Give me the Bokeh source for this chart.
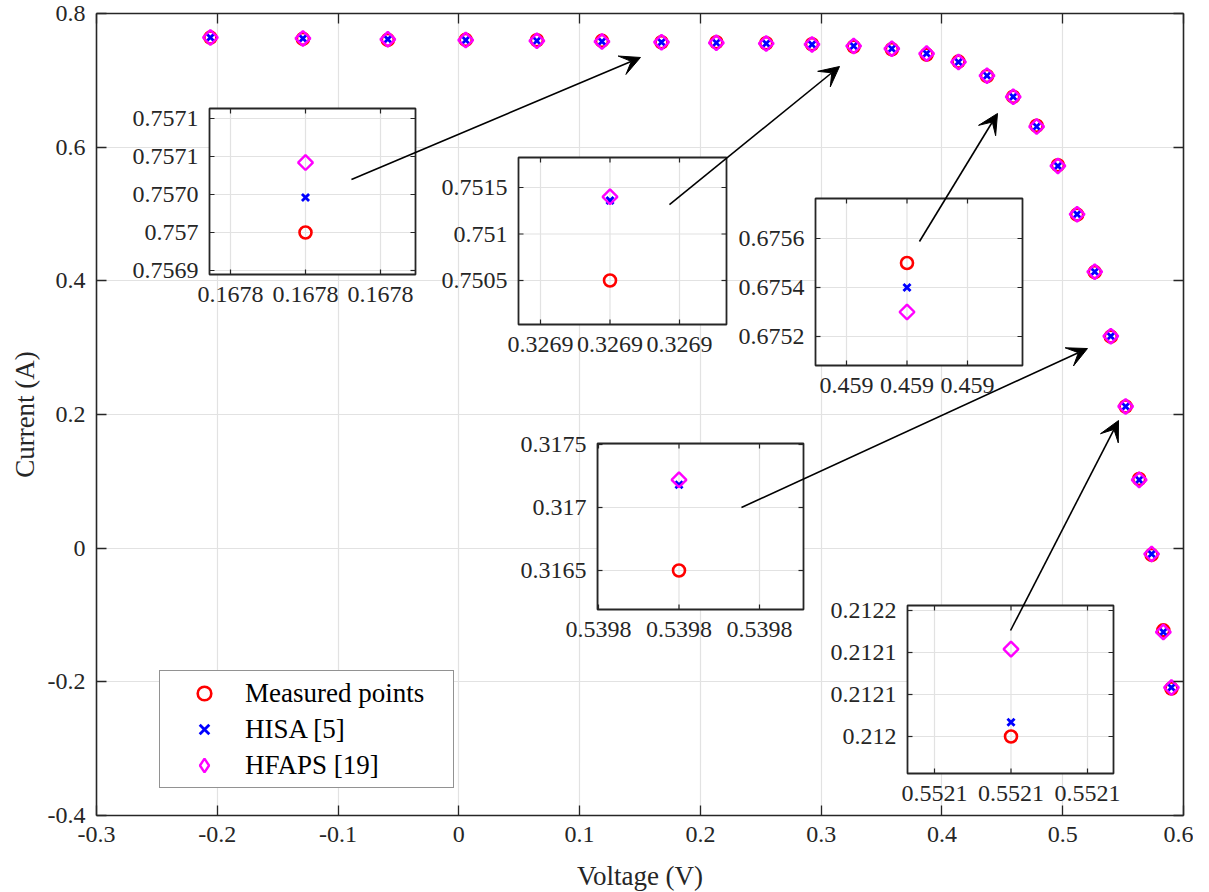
import math
from bokeh.plotting import figure
from bokeh.models import (Range1d, FixedTicker, LinearAxis, Legend, LegendItem,
                          Arrow, VeeHead, CustomJSTickFormatter)
from bokeh.core.properties import value
from bokeh.embed import file_html
from bokeh.resources import INLINE

# ---------------- data ----------------
voltage = [-0.2057, -0.1291, -0.0588, 0.0057, 0.0646, 0.1185, 0.1678, 0.2132,
           0.2545, 0.2924, 0.3269, 0.3585, 0.3873, 0.4137, 0.4373, 0.4590,
           0.4784, 0.4960, 0.5119, 0.5265, 0.5398, 0.5521, 0.5633, 0.5736,
           0.5833, 0.5900]
measured = [0.7640, 0.7620, 0.7605, 0.7605, 0.7600, 0.7590, 0.7570, 0.7570,
            0.7555, 0.7540, 0.7505, 0.7465, 0.7385, 0.7280, 0.7065, 0.6755,
            0.6320, 0.5730, 0.4990, 0.4130, 0.3165, 0.2120, 0.1035, -0.0100,
            -0.1230, -0.2100]
hisa = [0.7641, 0.7627, 0.7614, 0.7602, 0.7591, 0.7580, 0.757046, 0.7561,
        0.7551, 0.7537, 0.75136, 0.7474, 0.7401, 0.7274, 0.7070, 0.6754,
        0.6308, 0.5719, 0.4996, 0.4136, 0.31718, 0.212017, 0.1022, -0.0087,
        -0.1255, -0.2085]
hfaps = [0.7641, 0.7627, 0.7614, 0.7602, 0.7591, 0.7580, 0.757092, 0.7561,
         0.7551, 0.7537, 0.75140, 0.7474, 0.7401, 0.7274, 0.7070, 0.6753,
         0.6308, 0.5719, 0.4996, 0.4136, 0.31722, 0.212104, 0.1022, -0.0087,
         -0.1255, -0.2085]

series_names = ["Measured points", "HISA [5]", "HFAPS [19]"]

x_ticks = [-0.3, -0.2, -0.1, 0.0, 0.1, 0.2, 0.3, 0.4, 0.5, 0.6]
x_tick_labels = ["-0.3", "-0.2", "-0.1", "0", "0.1", "0.2", "0.3", "0.4", "0.5", "0.6"]
y_ticks = [-0.4, -0.2, 0.0, 0.2, 0.4, 0.6, 0.8]
y_tick_labels = ["-0.4", "-0.2", "0", "0.2", "0.4", "0.6", "0.8"]

# zoomed insets: which point each one shows, and its tick labels
inset_points = [6, 10, 15, 20, 21]
inset_x_step = 2e-5
inset_x_tick_labels = [["0.1678", "0.1678", "0.1678"],
                       ["0.3269", "0.3269", "0.3269"],
                       ["0.459", "0.459", "0.459"],
                       ["0.5398", "0.5398", "0.5398"],
                       ["0.5521", "0.5521", "0.5521"]]
inset_y_ticks = [[0.75695, 0.7570, 0.75705, 0.7571, 0.75715],
                 [0.7505, 0.7510, 0.7515],
                 [0.6752, 0.6754, 0.6756],
                 [0.3165, 0.3170, 0.3175],
                 [0.2120, 0.21205, 0.2121, 0.21215]]
inset_y_tick_labels = [["0.7569", "0.757", "0.7570", "0.7571", "0.7571"],
                       ["0.7505", "0.751", "0.7515"],
                       ["0.6752", "0.6754", "0.6756"],
                       ["0.3165", "0.317", "0.3175"],
                       ["0.212", "0.2121", "0.2121", "0.2122"]]

# annotation arrows (main-axes data units)
arrow_start_x = [-0.0889, 0.1744, 0.3814, 0.2340, 0.4568]
arrow_start_y = [0.5516, 0.5142, 0.4588, 0.0608, -0.1232]
arrow_end_x = [0.1504, 0.3152, 0.4460, 0.5205, 0.5462]
arrow_end_y = [0.7342, 0.7207, 0.6504, 0.2987, 0.1910]

# ---------------- layout (page pixels) ----------------
PAGE = 0
FL, FT, FW, FH = 96, 13, 1087, 802
TOTAL_H = 890
INSET_BOX = [(209, 108, 415, 274), (518, 157, 726, 324), (815, 198, 1022, 365),
             (597, 443, 803, 609), (907, 605, 1113, 773)]
INSET_XCAL = [(230, 380), (540, 679), (846, 967), (598, 759), (934, 1087)]
INSET_YCAL = [(270, 118), (280, 187), (336, 238), (570, 444), (736, 610)]

FONT = "Liberation Serif"
TXT = "#262626"
AX = "#262626"
GRID = "#e2e2e2"
TICK_FS = "24px"
RED, BLUE, MAG = "#ff0000", "#0000ff", "#ff00ff"

p = figure(frame_width=FW, frame_height=FH,
           x_range=Range1d(-0.3, 0.6), y_range=Range1d(-0.4, 0.8),
           output_backend="svg", toolbar_location=None,
           min_border_left=FL - PAGE, min_border_top=FT - PAGE,
           min_border_right=10, min_border_bottom=TOTAL_H - (FT + FH),
           background_fill_color="white", border_fill_color="white",
           outline_line_color=None)

p.xaxis.ticker = FixedTicker(ticks=x_ticks)
p.yaxis.ticker = FixedTicker(ticks=y_ticks)
p.xaxis.major_label_overrides = dict(zip(x_ticks, x_tick_labels))
p.yaxis.major_label_overrides = dict(zip(y_ticks, y_tick_labels))
for ax in (p.xaxis[0], p.yaxis[0]):
    ax.major_tick_in = 10
    ax.major_tick_out = 0
    ax.minor_tick_line_color = None
    ax.axis_line_color = AX
    ax.axis_line_width = 1.6
    ax.major_tick_line_color = AX
    ax.major_tick_line_width = 1.3
    ax.major_label_text_font = FONT
    ax.major_label_text_font_size = TICK_FS
    ax.major_label_text_color = TXT
    ax.major_label_standoff = 11
    ax.axis_label_text_font = FONT
    ax.axis_label_text_font_size = "27px"
    ax.axis_label_text_font_style = "normal"
    ax.axis_label_text_color = TXT
p.xaxis.axis_label = "Voltage (V)"
p.yaxis.axis_label = "Current (A)"
p.xaxis.axis_label_standoff = 16
p.yaxis.axis_label_standoff = 5

for loc, tk in (("above", x_ticks), ("right", y_ticks)):
    ax = LinearAxis(ticker=FixedTicker(ticks=tk),
                    formatter=CustomJSTickFormatter(code="return ''"),
                    major_label_text_font_size="0px", major_label_standoff=0,
                    major_tick_in=10, major_tick_out=0,
                    minor_tick_line_color=None,
                    axis_line_color=AX, axis_line_width=1.6,
                    major_tick_line_color=AX, major_tick_line_width=1.3)
    p.add_layout(ax, loc)

p.xgrid.grid_line_color = GRID
p.ygrid.grid_line_color = GRID
p.xgrid.grid_line_width = 1.2
p.ygrid.grid_line_width = 1.2


def draw_points(xs, m, h, f, **rng):
    r1 = p.scatter(xs, m, marker="circle", size=12, fill_color=None,
                   line_color=RED, line_width=2.6, **rng)
    r2 = p.scatter(xs, h, marker="x", size=10, line_color=BLUE,
                   line_width=2.8, **rng)
    r3 = p.scatter(xs, f, marker="square", angle=math.pi / 4, size=10.5,
                   fill_color=None, line_color=MAG, line_width=2.4, **rng)
    return r1, r2, r3


r_meas, r_hisa, r_hfaps = draw_points(voltage, measured, hisa, hfaps)

# ---------------- insets ----------------
xr_map, yr_map = {}, {}
specs = []
for k, idx in enumerate(inset_points):
    v = voltage[idx]
    xticks_k = [v - inset_x_step, v, v + inset_x_step]
    pa, pb = INSET_XCAL[k]
    sx = (xticks_k[-1] - xticks_k[0]) / (pb - pa)
    fx = lambda px, a=xticks_k[0], pa=pa, sx=sx: a + (px - pa) * sx
    qa, qb = INSET_YCAL[k]
    yk = inset_y_ticks[k]
    sy = (yk[-1] - yk[0]) / (qb - qa)
    fy = lambda py, a=yk[0], qa=qa, sy=sy: a + (py - qa) * sy
    xr_map["ix%d" % k] = Range1d(start=fx(FL), end=fx(FL + FW))
    yr_map["iy%d" % k] = Range1d(start=fy(FT + FH), end=fy(FT))
    l, t, r, b = INSET_BOX[k]
    specs.append((idx, xticks_k, yk, fx(l), fx(r), fy(b), fy(t)))

p.extra_x_ranges = xr_map
p.extra_y_ranges = yr_map

for k, (idx, xticks_k, yk, x0, x1, y0, y1) in enumerate(specs):
    rng = dict(x_range_name="ix%d" % k, y_range_name="iy%d" % k)
    nx, ny = len(xticks_k), len(yk)
    p.quad(left=[x0], right=[x1], bottom=[y0], top=[y1], fill_color="white",
           line_color=None, **rng)
    p.segment(x0=xticks_k, y0=[y0] * nx, x1=xticks_k, y1=[y1] * nx,
              line_color=GRID, line_width=1.2, **rng)
    p.segment(x0=[x0] * ny, y0=yk, x1=[x1] * ny, y1=yk,
              line_color=GRID, line_width=1.2, **rng)
    v = voltage[idx]
    draw_points([v], [measured[idx]], [hisa[idx]], [hfaps[idx]], **rng)
    p.quad(left=[x0], right=[x1], bottom=[y0], top=[y1], fill_color=None,
           line_color=AX, line_width=1.8, **rng)
    tick = dict(length=5, length_units="screen", line_color=AX, line_width=1.2)
    p.ray(x=xticks_k, y=[y0] * nx, angle=math.pi / 2, **tick, **rng)
    p.ray(x=xticks_k, y=[y1] * nx, angle=-math.pi / 2, **tick, **rng)
    p.ray(x=[x0] * ny, y=yk, angle=0, **tick, **rng)
    p.ray(x=[x1] * ny, y=yk, angle=math.pi, **tick, **rng)
    p.text(x=xticks_k, y=[y0] * nx, text=inset_x_tick_labels[k],
           text_align="center", text_baseline="top", y_offset=12,
           text_font=value(FONT), text_font_size=TICK_FS, text_color=TXT, **rng)
    p.text(x=[x0] * ny, y=yk, text=inset_y_tick_labels[k],
           text_align="right", text_baseline="middle", x_offset=-11,
           text_font=value(FONT), text_font_size=TICK_FS, text_color=TXT, **rng)

# ---------------- arrows ----------------
for xs, ys, xe, ye in zip(arrow_start_x, arrow_start_y, arrow_end_x, arrow_end_y):
    p.add_layout(Arrow(x_start=xs, y_start=ys, x_end=xe, y_end=ye,
                       line_color="black", line_width=1.6,
                       end=VeeHead(size=20, fill_color="black",
                                   line_color="black", line_width=1)))

# ---------------- legend ----------------
nan = float("nan")
r_leg_diamond = p.scatter(x=[nan], y=[nan], marker="diamond", fill_color=None,
                          line_color=MAG, line_width=2.4)
legend = Legend(items=[LegendItem(label=series_names[0], renderers=[r_meas]),
                       LegendItem(label=series_names[1], renderers=[r_hisa]),
                       LegendItem(label=series_names[2], renderers=[r_leg_diamond])],
                location=(159 - FL, FT + FH - 788),
                glyph_width=78, glyph_height=34, label_height=30,
                label_width=203, label_standoff=2, spacing=2, padding=5,
                margin=0, border_line_color=AX, border_line_width=1.5,
                background_fill_color="white", background_fill_alpha=1.0,
                label_text_font=FONT, label_text_font_size="27px",
                label_text_color="black")
p.add_layout(legend)

open("out.html", "w").write(file_html(p, INLINE))
